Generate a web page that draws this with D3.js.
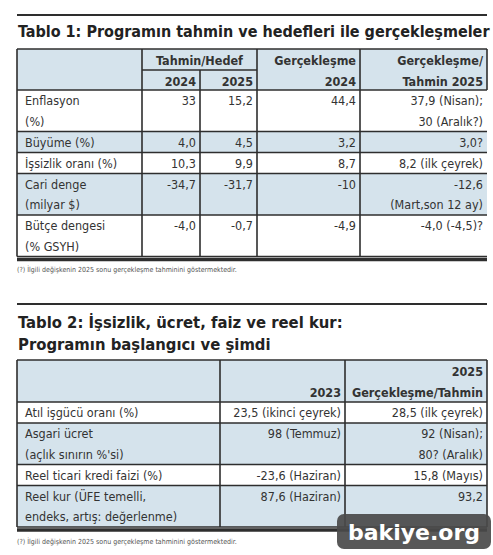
<!DOCTYPE html>
<html><head><meta charset="utf-8">
<script src="https://cdn.jsdelivr.net/npm/d3@7"></script>
<style>
body{margin:0;background:#fff;}
text{font-family:"DejaVu Sans Condensed","DejaVu Sans",sans-serif;fill:#333;}
</style></head><body>
<script>
// Table 1 data
const t1Title = "Tablo 1: Programın tahmin ve hedefleri ile gerçekleşmeler";
const t1Rows = [
  ["Enflasyon|(%)", "33", "15,2", "44,4", "37,9 (Nisan);|30 (Aralık?)"],
  ["Büyüme (%)", "4,0", "4,5", "3,2", "3,0?"],
  ["İşsizlik oranı (%)", "10,3", "9,9", "8,7", "8,2 (ilk çeyrek)"],
  ["Cari denge|(milyar $)", "-34,7", "-31,7", "-10", "-12,6|(Mart,son 12 ay)"],
  ["Bütçe dengesi|(% GSYH)", "-4,0", "-0,7", "-4,9", "-4,0 (-4,5)?"]
];
const t1Shaded = [false, true, false, true, false];
const t1Note = "(?) İlgili değişkenin 2025 sonu gerçekleşme tahminini göstermektedir.";

// Table 2 data
const t2Title = ["Tablo 2: İşsizlik, ücret, faiz ve reel kur:", "Programın başlangıcı ve şimdi"];
const t2Head = ["", "2023", "2025|Gerçekleşme/Tahmin"];
const t2Rows = [
  ["Atıl işgücü oranı (%)", "23,5 (ikinci çeyrek)", "28,5 (ilk çeyrek)"],
  ["Asgari ücret|(açlık sınırın %'si)", "98 (Temmuz)", "92 (Nisan);|80? (Aralık)"],
  ["Reel ticari kredi faizi (%)", "-23,6 (Haziran)", "15,8 (Mayıs)"],
  ["Reel kur (ÜFE temelli,|endeks, artış: değerlenme)", "87,6 (Haziran)", "93,2"]
];
const t2Shaded = [false, true, false, true];
const t2Note = "(?) İlgili değişkenin 2025 sonu gerçekleşme tahminini göstermektedir.";

const W = 493, H = 555, L = 17, R = 487;
const blue = "#d5e3ec", line = "#2e2e2e";
const svg = d3.select("body").append("svg").attr("width", W).attr("height", H);

function rowLayout(rows, y0, lineH, pad) {
  let y = y0; const out = [];
  rows.forEach(r => {
    const n = d3.max(r, c => c.split("|").length);
    const h = n * lineH + pad;
    out.push({y, h, r}); y += h;
  });
  return out;
}

function cellText(g, s, x, y, anchor, lineH, bold) {
  s.split("|").forEach((t, i) => {
    g.append("text").attr("x", x).attr("y", y + 15 + i * lineH)
      .attr("text-anchor", anchor).style("font-size", "12.5px")
      .style("font-weight", bold ? "700" : "400").text(t);
  });
}

function vlines(g, xs, y0, y1) {
  xs.forEach(x => g.append("line").attr("x1", x).attr("x2", x).attr("y1", y0).attr("y2", y1)
    .attr("stroke", line).attr("stroke-width", 1.6));
}
function hline(g, x0, x1, y, w) {
  g.append("line").attr("x1", x0).attr("x2", x1).attr("y1", y).attr("y2", y)
    .attr("stroke", line).attr("stroke-width", w || 1.6);
}
function title(g, t, y, size) {
  g.append("text").attr("x", L + 1).attr("y", y).style("font-size", size + "px").style("font-weight", "700")
    .style("fill", "#222").text(t);
}

// ---------- Table 1 ----------
const g1 = svg.append("g");
hline(g1, L, R, 15, 2);
title(g1, t1Title, 37, 16);

const x1 = d3.scaleOrdinal().domain([0, 1, 2, 3, 4, 5]).range([L, 142, 200, 257, 360, R]);
const hTop = 49, hMid = 70, hBot = 90;
g1.append("rect").attr("x", L).attr("y", hTop).attr("width", R - L).attr("height", hBot - hTop).attr("fill", blue);
const rows1 = rowLayout(t1Rows, hBot, 20.5, 0.5);
rows1.forEach((d, i) => {
  if (t1Shaded[i]) g1.append("rect").attr("x", L).attr("y", d.y).attr("width", R - L).attr("height", d.h).attr("fill", blue);
  d.r.forEach((c, j) => {
    if (j === 0) cellText(g1, c, L + 8, d.y, "start", 20.5, false);
    else cellText(g1, c, x1(j + 1) - 4, d.y, "end", 20.5, false);
  });
});
const t1End = rows1[rows1.length - 1].y + rows1[rows1.length - 1].h;
cellText(g1, "Tahmin/Hedef", (x1(1) + x1(3)) / 2, hTop + 1, "middle", 20, true);
cellText(g1, "2024", x1(2) - 4, hMid + 1, "end", 20, true);
cellText(g1, "2025", x1(3) - 4, hMid + 1, "end", 20, true);
cellText(g1, "Gerçekleşme|2024", x1(4) - 4, hTop + 1, "end", 20.5, true);
cellText(g1, "Gerçekleşme/|Tahmin 2025", x1(5) - 4, hTop + 1, "end", 20.5, true);
hline(g1, L, R, hTop);
hline(g1, x1(1), x1(3), hMid);
hline(g1, L, R, hBot);
rows1.forEach(d => hline(g1, L, R, d.y + d.h));
vlines(g1, [L, x1(1), x1(3), x1(4)], hTop, t1End);
vlines(g1, [x1(2)], hMid, t1End);
vlines(g1, [R], hTop, hBot);
hline(g1, L, R, t1End + 3, 3.5);
g1.append("text").attr("x", L).attr("y", t1End + 15).style("font-size", "7px").style("fill", "#555").text(t1Note);

// ---------- Table 2 ----------
const g2 = svg.append("g");
hline(g2, L, R, 304, 2);
t2Title.forEach((t, i) => title(g2, t, 328 + i * 22, 16.5));
const x2 = d3.scaleOrdinal().domain([0, 1, 2, 3]).range([L, 220, 345, R]);
const h2Top = 360, h2Bot = 402;
g2.append("rect").attr("x", L).attr("y", h2Top).attr("width", R - L).attr("height", h2Bot - h2Top).attr("fill", blue);
t2Head.forEach((c, j) => { if (j > 0) {
  const n = c.split("|").length;
  cellText(g2, c, x2(j + 1) - 4, h2Top + 1 + (2 - n) * 20.5, "end", 20.5, true);
}});
const rows2 = rowLayout(t2Rows, h2Bot, 20.5, 0.5);
rows2.forEach((d, i) => {
  if (t2Shaded[i]) g2.append("rect").attr("x", L).attr("y", d.y).attr("width", R - L).attr("height", d.h).attr("fill", blue);
  d.r.forEach((c, j) => {
    if (j === 0) cellText(g2, c, L + 8, d.y, "start", 20.5, false);
    else cellText(g2, c, x2(j + 1) - 4, d.y, "end", 20.5, false);
  });
});
const t2End = rows2[rows2.length - 1].y + rows2[rows2.length - 1].h;
hline(g2, L, R, h2Top); hline(g2, L, R, h2Bot);
rows2.forEach(d => hline(g2, L, R, d.y + d.h));
vlines(g2, [L, x2(1), x2(2), R], h2Top, t2End);
hline(g2, L, R, t2End + 3, 3.5);
g2.append("text").attr("x", L).attr("y", t2End + 17).style("font-size", "7px").style("fill", "#555").text(t2Note);

// watermark
const wm = svg.append("g");
wm.append("rect").attr("x", 337).attr("y", 514).attr("width", 154).attr("height", 35).attr("rx", 7)
  .attr("fill", "#4a4a4a").attr("opacity", 0.92);
wm.append("text").attr("x", 414).attr("y", 540).attr("text-anchor", "middle")
  .style("font-family", "'DejaVu Sans',sans-serif").style("font-size", "22px").style("font-weight", "700")
  .style("fill", "#fff").text("bakiye.org");
</script>
</body></html>
